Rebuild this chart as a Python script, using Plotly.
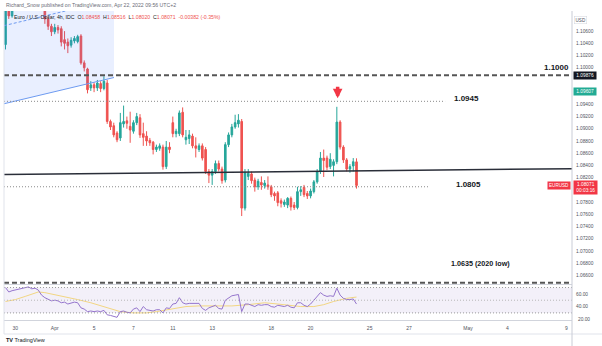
import pandas as pd
import plotly.graph_objects as go

# ---------------- data ----------------
first_bars = ["2022-03-29 12:00", "2022-03-29 16:00", "2022-03-29 20:00"]
trading_days = pd.bdate_range("2022-03-30", "2022-04-22")
bar_hours = [0, 4, 8, 12, 16, 20]
times = list(pd.to_datetime(first_bars)) + [d + pd.Timedelta(hours=h) for d in trading_days for h in bar_hours]
times = times[:108]

opens = [1.1038, 1.1096, 1.1085, 1.1098, 1.1108, 1.1125, 1.1140, 1.1150, 1.1160, 1.1158,
         1.1165, 1.1172, 1.1120, 1.1080, 1.1068, 1.1059, 1.1066, 1.1064, 1.1046, 1.1042,
         1.1037, 1.1044, 1.1043, 1.1052, 1.1008, 1.0998, 1.0967, 1.0972, 1.0967, 1.0974,
         1.0966, 1.0975, 1.0912, 1.0905, 1.0893, 1.0885, 1.0908, 1.0913, 1.0904, 1.0896,
         1.0910, 1.0918, 1.0892, 1.0888, 1.0881, 1.0878, 1.0866, 1.0868, 1.0870, 1.0838,
         1.0870, 1.0910, 1.0892, 1.0892, 1.0927, 1.0882, 1.0884, 1.0888, 1.0872, 1.0866,
         1.0872, 1.0866, 1.0830, 1.0824, 1.0830, 1.0843, 1.0834, 1.0816, 1.0874, 1.0890,
         1.0903, 1.0908, 1.0912, 1.0770, 1.0822, 1.0826, 1.0816, 1.0805, 1.0812, 1.0807,
         1.0808, 1.0805, 1.0794, 1.0795, 1.0782, 1.0776, 1.0775, 1.0786, 1.0775, 1.0771,
         1.0797, 1.0804, 1.0794, 1.0790, 1.0797, 1.0813, 1.0830, 1.0852, 1.0852, 1.0838,
         1.0840, 1.0846, 1.0911, 1.0870, 1.0849, 1.0834, 1.0839, 1.08458]
highs = [1.1105, 1.1100, 1.1105, 1.1115, 1.1130, 1.1145, 1.1160, 1.1170, 1.1165, 1.1170,
         1.1185, 1.1178, 1.1124, 1.1084, 1.1072, 1.1072, 1.1070, 1.1068, 1.1060, 1.1048,
         1.1050, 1.1052, 1.1054, 1.1055, 1.1012, 1.1000, 1.0978, 1.0976, 1.0980, 1.0978,
         1.0986, 1.0980, 1.0915, 1.0910, 1.0896, 1.0926, 1.0938, 1.0920, 1.0928, 1.0914,
         1.0926, 1.0924, 1.0910, 1.0896, 1.0885, 1.0880, 1.0874, 1.0876, 1.0874, 1.0880,
         1.0878, 1.0920, 1.0900, 1.0930, 1.0935, 1.0898, 1.0898, 1.0892, 1.0886, 1.0876,
         1.0876, 1.0870, 1.0834, 1.0834, 1.0848, 1.0848, 1.0838, 1.0878, 1.0894, 1.0908,
         1.0923, 1.0924, 1.0916, 1.0834, 1.0834, 1.0830, 1.0820, 1.0818, 1.0822, 1.0816,
         1.0822, 1.0808, 1.0797, 1.0798, 1.0786, 1.0784, 1.0788, 1.0789, 1.0780, 1.0805,
         1.0806, 1.0808, 1.0798, 1.0802, 1.0816, 1.0834, 1.0862, 1.0866, 1.0856, 1.0860,
         1.0850, 1.0936, 1.0914, 1.0873, 1.0852, 1.0842, 1.0852, 1.08516]
lows = [1.1030, 1.1080, 1.1082, 1.1094, 1.1100, 1.1112, 1.1125, 1.1140, 1.1145, 1.1150,
        1.1155, 1.1115, 1.1072, 1.1062, 1.1052, 1.1055, 1.1056, 1.1035, 1.1030, 1.1024,
        1.1033, 1.1040, 1.1040, 1.1005, 1.0994, 1.0958, 1.0962, 1.0960, 1.0962, 1.0960,
        1.0963, 1.0908, 1.0898, 1.0886, 1.0878, 1.0880, 1.0902, 1.0900, 1.0877, 1.0892,
        1.0906, 1.0885, 1.0872, 1.0872, 1.0872, 1.0858, 1.0862, 1.0864, 1.0833, 1.0834,
        1.0860, 1.0886, 1.0886, 1.0888, 1.0886, 1.0874, 1.0875, 1.0868, 1.0853, 1.0862,
        1.0848, 1.0826, 1.0811, 1.0808, 1.0826, 1.0830, 1.0810, 1.0812, 1.0870, 1.0886,
        1.0900, 1.0902, 1.0757, 1.0766, 1.0816, 1.0810, 1.0797, 1.0800, 1.0800, 1.0802,
        1.0800, 1.0788, 1.0782, 1.0773, 1.0771, 1.0772, 1.0770, 1.0766, 1.0767, 1.0768,
        1.0790, 1.0788, 1.0785, 1.0786, 1.0794, 1.0810, 1.0826, 1.0821, 1.0832, 1.0834,
        1.0822, 1.0842, 1.0866, 1.0844, 1.0830, 1.0828, 1.0830, 1.08020]
closes = [1.1095, 1.1085, 1.1098, 1.1108, 1.1125, 1.1140, 1.1150, 1.1160, 1.1158, 1.1165,
          1.1172, 1.1120, 1.1080, 1.1068, 1.1059, 1.1066, 1.1062, 1.1042, 1.1040, 1.1036,
          1.1045, 1.1048, 1.1051, 1.1008, 1.1000, 1.0964, 1.0972, 1.0967, 1.0975, 1.0966,
          1.0978, 1.0912, 1.0903, 1.0890, 1.0882, 1.0910, 1.0912, 1.0909, 1.0898, 1.0910,
          1.0920, 1.0890, 1.0886, 1.0880, 1.0877, 1.0866, 1.0870, 1.0872, 1.0838, 1.0870,
          1.0866, 1.0892, 1.0896, 1.0926, 1.0890, 1.0886, 1.0890, 1.0872, 1.0868, 1.0872,
          1.0852, 1.0830, 1.0824, 1.0830, 1.0843, 1.0834, 1.0815, 1.0874, 1.0890, 1.0903,
          1.0910, 1.0914, 1.0770, 1.0828, 1.0827, 1.0815, 1.0805, 1.0814, 1.0808, 1.0811,
          1.0805, 1.0792, 1.0790, 1.0779, 1.0778, 1.0780, 1.0786, 1.0772, 1.0771, 1.0797,
          1.0800, 1.0792, 1.0790, 1.0798, 1.0813, 1.0830, 1.0852, 1.0848, 1.0837, 1.0850,
          1.0846, 1.0911, 1.0870, 1.0849, 1.0834, 1.0838, 1.0846, 1.08071]

rsi = [70, 63, 65, 66, 67, 68, 70, 71, 68, 69,
       66, 58, 54, 51, 49, 50, 49, 46, 47, 44,
       46, 47, 46, 38, 36, 32, 33, 32, 33, 32,
       34, 27, 26, 24, 23, 32, 33, 31, 30, 36,
       38, 32, 40, 35, 34, 33, 35, 35, 30, 38,
       37, 44, 45, 54, 46, 44, 45, 45, 44, 45,
       37, 34, 38, 40, 42, 37, 36, 50, 53, 57,
       58, 59, 32, 44, 44, 42, 40, 43, 42, 43,
       43, 40, 39, 42, 41, 40, 42, 39, 38, 46,
       46, 42, 40, 44, 50, 56, 62, 58, 56, 57,
       56, 69, 58, 53, 51, 51, 52, 44]
rsi_ma_bar = [0, 3, 6, 10, 12, 15, 19, 22, 26, 29, 32, 35, 39, 43, 46, 51, 55, 59,
              64, 69, 74, 79, 83, 86, 90, 94, 97, 100, 104, 107]
rsi_ma = [48, 51, 56, 63, 62, 59, 55, 51, 46, 41, 36, 32, 30, 30, 32, 37, 40, 41,
          41, 41, 43, 46, 44, 42, 40, 40, 43, 48, 53, 55]

tick_dates = ["2022-03-30", "2022-04-01", "2022-04-05", "2022-04-07", "2022-04-11",
              "2022-04-13", "2022-04-18", "2022-04-20", "2022-04-25", "2022-04-27",
              "2022-05-02", "2022-05-04", "2022-05-09"]
tick_labels = ["30", "Apr", "5", "7", "11", "13", "18", "20", "25", "27", "May", "4", "9"]
price_ticks = [1.066, 1.068, 1.070, 1.072, 1.074, 1.076, 1.078, 1.082, 1.084,
               1.086, 1.088, 1.090, 1.092, 1.094, 1.100, 1.102, 1.104, 1.106]
rsi_ticks = [40, 60]
rsi_bottom_label = 20

X_START = "2022-03-29 10:10"
X_END = "2022-05-09 06:45"
PRICE_RANGE = [1.0644, 1.1093]
RSI_RANGE = [18.8, 74]

level_1000 = 1.09876
level_0945 = 1.0945
level_0945_end = "2022-04-28 20:00"
level_0805 = 1.0805
level_0805_end = "2022-04-28 00:00"
level_bottom = 1.06475
trend_x = [X_START, X_END]
trend_y = [1.08252, 1.08346]
channel_end = "2022-04-06 00:20"
channel_lower = [1.0941, 1.0984]
channel_mid = [1.1069, 1.1112]
arrow_x = "2022-04-21 09:00"
arrow_y = 1.0950
last_price = 1.08071
green_label = 1.09607

# ---------------- figure ----------------
W, H = 602, 346
def py(p):
    return 1 - p / H

fig = go.Figure()

# channel fill
fig.add_trace(go.Scatter(
    x=[X_START, channel_end, channel_end, X_START, X_START],
    y=[channel_lower[0], channel_lower[1], PRICE_RANGE[1], PRICE_RANGE[1], channel_lower[0]],
    mode="lines", fill="toself", fillcolor="rgba(41,98,255,0.10)",
    line=dict(width=0), hoverinfo="skip", xaxis="x", yaxis="y"))
fig.add_trace(go.Scatter(x=[X_START, channel_end], y=channel_lower, mode="lines",
                         line=dict(color="#6d9af0", width=1), xaxis="x", yaxis="y"))
fig.add_trace(go.Scatter(x=[X_START, channel_end], y=channel_mid, mode="lines",
                         line=dict(color="#6d9af0", width=1, dash="3px,2px"), xaxis="x", yaxis="y"))

# horizontal levels
fig.add_trace(go.Scatter(x=[X_START, X_END], y=[level_1000, level_1000], mode="lines",
                         line=dict(color="#555555", width=2, dash="5px,3px"), xaxis="x", yaxis="y"))
fig.add_trace(go.Scatter(x=[X_START, X_END], y=[level_bottom, level_bottom], mode="lines",
                         line=dict(color="#555555", width=2, dash="5px,3px"), xaxis="x", yaxis="y"))
fig.add_trace(go.Scatter(x=[X_START, level_0945_end], y=[level_0945, level_0945], mode="lines",
                         line=dict(color="#8a8a8a", width=1, dash="1px,2px"), xaxis="x", yaxis="y"))
fig.add_trace(go.Scatter(x=[X_START, level_0805_end], y=[level_0805, level_0805], mode="lines",
                         line=dict(color="#8a8a8a", width=1, dash="1px,2px"), xaxis="x", yaxis="y"))
fig.add_trace(go.Scatter(x=trend_x, y=trend_y, mode="lines",
                         line=dict(color="#2a2e39", width=1.5), xaxis="x", yaxis="y"))

# candles
fig.add_trace(go.Candlestick(
    x=times, open=opens, high=highs, low=lows, close=closes,
    increasing=dict(line=dict(color="#26a69a", width=1), fillcolor="#26a69a"),
    decreasing=dict(line=dict(color="#ef5350", width=1), fillcolor="#ef5350"),
    whiskerwidth=0, xaxis="x", yaxis="y", hoverinfo="skip"))

# RSI
fig.add_trace(go.Scatter(x=[times[i] for i in rsi_ma_bar], y=rsi_ma, mode="lines",
                         line=dict(color="#f2d682", width=1), xaxis="x", yaxis="y2"))
fig.add_trace(go.Scatter(x=times, y=rsi, mode="lines",
                         line=dict(color="#9575cd", width=1), xaxis="x", yaxis="y2"))

shapes = [
    dict(type="rect", xref="x domain", yref="y2", x0=0, x1=1, y0=30, y1=70,
         fillcolor="rgba(126,87,194,0.09)", line=dict(width=0), layer="below"),
    dict(type="line", xref="x domain", yref="y2", x0=0, x1=1, y0=70, y1=70,
         line=dict(color="#9a9a9a", width=1, dash="1px,2px")),
    dict(type="line", xref="x domain", yref="y2", x0=0, x1=1, y0=50, y1=50,
         line=dict(color="#b8b8b8", width=1, dash="1px,2px")),
    dict(type="line", xref="x domain", yref="y2", x0=0, x1=1, y0=30, y1=30,
         line=dict(color="#9a9a9a", width=1, dash="1px,2px")),
    dict(type="line", xref="paper", yref="paper", x0=4 / W, x1=1, y0=py(334), y1=py(334),
         line=dict(color="#e0e3eb", width=1)),
    dict(type="line", xref="paper", yref="paper", x0=572 / W, x1=572 / W, y0=py(346), y1=py(11),
         line=dict(color="#c9ccd6", width=1)),
    dict(type="line", xref="paper", yref="paper", x0=4 / W, x1=4 / W, y0=py(334), y1=py(11),
         line=dict(color="#e0e3eb", width=1)),
]

FONT = "Liberation Sans, Arial, sans-serif"
red = "#ef5350"
ann = []
ann.append(dict(xref="paper", yref="paper", x=4 / W, y=py(5), xanchor="left", yanchor="middle",
                text="Richard_Snow published on TradingView.com, Apr 22, 2022 09:56 UTC+2",
                showarrow=False, font=dict(size=5.2, color="#6a6d78", family=FONT)))
ann.append(dict(xref="paper", yref="paper", x=12 / W, y=py(17), xanchor="left", yanchor="middle",
                text=("Euro / U.S. Dollar, 4h, IDC  O<span style='color:%s'>1.08458</span>"
                      "  H<span style='color:%s'>1.08516</span>  L<span style='color:%s'>1.08020</span>"
                      "  C<span style='color:%s'>1.08071</span>  <span style='color:%s'>-0.00382 (-0.35%%)</span>")
                % (red, red, red, red, red),
                showarrow=False, font=dict(size=5.2, color="#131722", family=FONT)))
# level labels
for txt, xx, yy, sz in [("1.1000", 556, 1.1000 + 0.00005, 8), ("1.0945", 466, level_0945 + 0.0004, 8),
                        ("1.0805", 468, level_0805 + 0.00035, 8), ("1.0635 (2020 low)", 480, 1.0680, 7.2)]:
    ann.append(dict(xref="paper", yref="y", x=xx / W, y=yy, xanchor="center", yanchor="middle",
                    text="<b>%s</b>" % txt, showarrow=False,
                    font=dict(size=sz, color="#131722", family=FONT)))
# arrow
ann.append(dict(xref="x", yref="y", x=arrow_x, y=arrow_y, ax=0, ay=-13, showarrow=True,
                arrowhead=2, arrowsize=0.55, arrowwidth=3.5, arrowcolor="#f23645", text="",
                standoff=0))
# price scale labels
ann.append(dict(xref="paper", yref="paper", x=587 / W, y=py(16), text="USD", showarrow=False,
                font=dict(size=4.6, color="#50535e", family=FONT), bgcolor="white",
                bordercolor="#d1d4dc", borderwidth=0.5, borderpad=1))
ann.append(dict(xref="paper", yref="y", x=573 / W, y=level_1000, xanchor="left", text=" 1.09876 ",
                showarrow=False, font=dict(size=4.8, color="white", family=FONT),
                bgcolor="#131722", borderpad=1))
ann.append(dict(xref="paper", yref="y", x=573 / W, y=green_label, xanchor="left", text=" 1.09607 ",
                showarrow=False, font=dict(size=4.8, color="white", family=FONT),
                bgcolor="#22ab94", borderpad=1))
ann.append(dict(xref="paper", yref="y", x=573 / W, y=last_price - 0.0004, xanchor="left",
                text=" 1.08071 <br> 00:03:16 ", showarrow=False,
                font=dict(size=4.8, color="white", family=FONT), bgcolor="#f23645", borderpad=1))
ann.append(dict(xref="paper", yref="y", x=571 / W, y=last_price, xanchor="right",
                text="EURUSD", showarrow=False,
                font=dict(size=4.6, color="white", family=FONT), bgcolor="#f23645", borderpad=1))
ann.append(dict(xref="paper", yref="y2", x=576 / W, y=rsi_bottom_label, xanchor="left",
                yanchor="middle", text="%.2f" % rsi_bottom_label, showarrow=False,
                font=dict(size=4.8, color="#50535e", family=FONT)))
ann.append(dict(xref="paper", yref="paper", x=4 / W, y=py(340), xanchor="left", yanchor="middle",
                text="<b>TV</b> TradingView", showarrow=False,
                font=dict(size=5.5, color="#131722", family=FONT)))

fig.update_layout(
    width=W, height=H, margin=dict(l=0, r=0, t=0, b=0),
    paper_bgcolor="white", plot_bgcolor="white", showlegend=False,
    font=dict(family=FONT),
    xaxis=dict(domain=[4 / W, 572 / W], anchor="y2", type="date", range=[X_START, X_END],
               rangebreaks=[dict(bounds=["sat", "mon"])], rangeslider=dict(visible=False),
               tickmode="array", tickvals=tick_dates, ticktext=tick_labels,
               tickfont=dict(size=5, color="#50535e"), showgrid=False, zeroline=False,
               showline=True, linecolor="#d1d4dc", linewidth=1, mirror=True, ticks="",
               ticklabelstandoff=3),
    yaxis=dict(domain=[py(285), py(11)], range=PRICE_RANGE, side="right", anchor="x",
               tickmode="array", tickvals=price_ticks, tickformat=".5f",
               tickfont=dict(size=4.8, color="#50535e"), showgrid=False, zeroline=False,
               showline=False, ticks="", ticklabelstandoff=3),
    yaxis2=dict(domain=[py(320), py(285)], range=RSI_RANGE, side="right", anchor="x",
                tickmode="array", tickvals=rsi_ticks, tickformat=".2f",
                tickfont=dict(size=4.8, color="#50535e"), showgrid=False, zeroline=False,
                showline=False, ticks="", ticklabelstandoff=3),
    shapes=shapes, annotations=ann,
)

fig.write_html("out.html")
